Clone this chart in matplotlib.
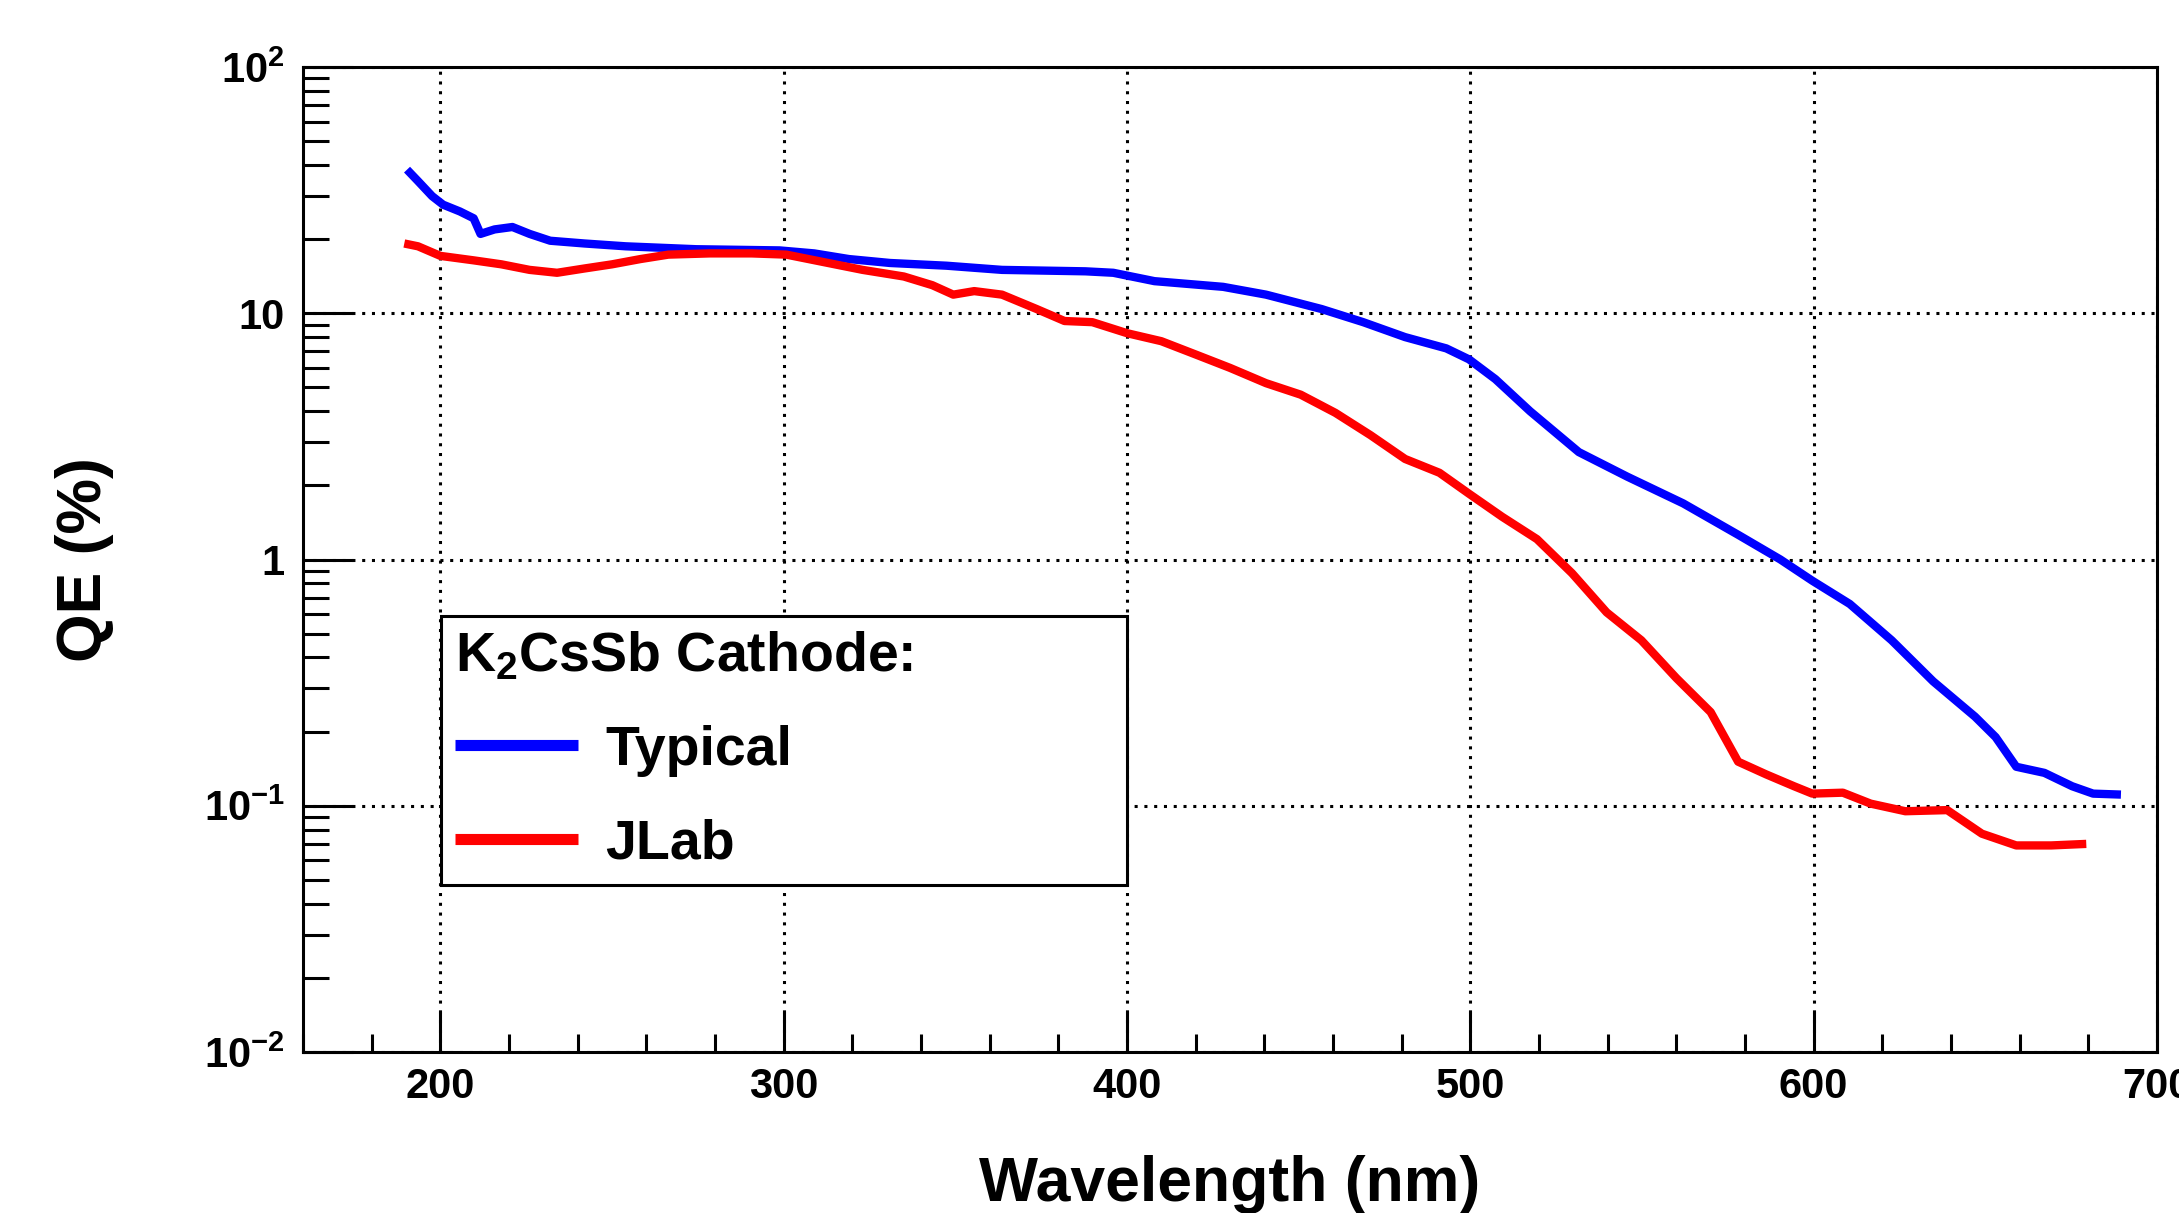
import matplotlib
matplotlib.use("Agg")
import matplotlib.pyplot as plt
from matplotlib.ticker import MultipleLocator, LogLocator, FuncFormatter, NullFormatter

plt.rcParams["font.family"] = ["Liberation Sans", "DejaVu Sans"]
plt.rcParams["font.weight"] = "bold"
plt.rcParams["mathtext.fontset"] = "custom"
plt.rcParams["mathtext.rm"] = "Liberation Sans:bold"
plt.rcParams["mathtext.it"] = "Liberation Sans:bold"
plt.rcParams["mathtext.bf"] = "Liberation Sans:bold"

# Typical K2CsSb cathode QE (%)
typical_nm = [190.3, 193.5, 197.6, 200.8, 205.7, 209.7, 211.7, 215.8, 221.0, 226.0,
              232.0, 242.0, 254.0, 274.5, 298.8, 308.9, 319.0, 331.0, 347.4, 363.6,
              387.9, 396.0, 408.0, 428.0, 440.5, 456.7, 468.8, 481.0, 493.0, 499.6,
              507.3, 517.4, 531.6, 545.7, 562.0, 578.0, 590.3, 599.6, 610.5, 622.7,
              634.8, 647.0, 653.0, 659.0, 667.2, 675.3, 681.4, 689.5]
typical_qe = [38.3, 34.4, 29.9, 27.6, 25.9, 24.3, 21.0, 21.9, 22.4, 21.0,
              19.7, 19.2, 18.7, 18.2, 18.0, 17.5, 16.6, 16.0, 15.6, 15.0,
              14.8, 14.6, 13.5, 12.8, 11.9, 10.4, 9.2, 8.0, 7.2, 6.5,
              5.4, 4.0, 2.73, 2.17, 1.69, 1.26, 1.0, 0.82, 0.66, 0.47,
              0.32, 0.23, 0.19, 0.144, 0.136, 0.12, 0.112, 0.111]

# JLab K2CsSb cathode QE (%)
jlab_nm = [189.5, 193.5, 200.0, 209.7, 217.8, 226.0, 234.0, 242.0, 250.0, 258.3,
           266.4, 278.5, 290.7, 300.8, 311.0, 323.0, 335.0, 343.3, 349.4, 355.5,
           363.6, 373.7, 381.8, 389.9, 400.0, 410.0, 420.0, 430.0, 440.5, 450.6,
           460.7, 470.9, 481.0, 491.0, 499.6, 509.3, 519.4, 529.6, 539.7, 549.8,
           560.0, 570.0, 578.0, 586.2, 594.3, 599.6, 608.5, 616.6, 626.7, 638.9,
           649.0, 659.0, 669.2, 679.4]
jlab_qe = [19.2, 18.7, 17.1, 16.4, 15.8, 15.0, 14.6, 15.2, 15.8, 16.6,
           17.3, 17.5, 17.5, 17.3, 16.2, 15.0, 14.1, 13.0, 11.9, 12.3,
           11.9, 10.4, 9.3, 9.2, 8.3, 7.7, 6.8, 6.0, 5.2, 4.67,
           3.94, 3.2, 2.56, 2.25, 1.85, 1.49, 1.21, 0.88, 0.61, 0.47,
           0.33, 0.24, 0.151, 0.134, 0.12, 0.112, 0.113, 0.102, 0.095, 0.096,
           0.077, 0.069, 0.069, 0.070]

ytick_labels = {100: r"$10^{2}$", 10: "10", 1: "1", 0.1: r"$10^{-1}$", 0.01: r"$10^{-2}$"}

fig = plt.figure(figsize=(21.79, 12.13), dpi=100)
ax = fig.add_axes([303 / 2179, 1 - 1052 / 1213, 1854 / 2179, 985 / 1213])

ax.plot(typical_nm, typical_qe, color="#0000ff", lw=6, label="Typical", solid_capstyle="butt")
ax.plot(jlab_nm, jlab_qe, color="#ff0000", lw=6, label="JLab", solid_capstyle="butt")

ax.set_yscale("log")
ax.set_xlim(160, 700)
ax.set_ylim(0.01, 100)

ax.xaxis.set_major_locator(MultipleLocator(100))
ax.xaxis.set_minor_locator(MultipleLocator(20))
ax.yaxis.set_major_locator(LogLocator(base=10, numticks=10))
ax.yaxis.set_minor_locator(LogLocator(base=10, subs=range(2, 10), numticks=20))
ax.yaxis.set_major_formatter(FuncFormatter(lambda v, p: ytick_labels.get(round(v, 2), "")))
ax.yaxis.set_minor_formatter(NullFormatter())

ax.tick_params(axis="both", which="both", direction="in", top=False, right=False,
               width=2.2, labelsize=30)
ax.tick_params(axis="x", which="major", length=29, pad=11)
ax.tick_params(axis="x", which="minor", length=13)
ax.tick_params(axis="y", which="major", length=36, pad=13)
ax.tick_params(axis="y", which="minor", length=19)

ax.grid(True, which="major", color="black", linestyle=(0, (1, 2.2)), lw=2.2)

for s in ax.spines.values():
    s.set_linewidth(2.2)

ax.set_xlabel("Wavelength (nm)", fontsize=45, fontweight="bold", labelpad=34)
ax.set_ylabel("QE (%)", fontsize=45, fontweight="bold", labelpad=65)

leg = ax.legend(loc="upper left", bbox_to_anchor=(0.0744, 0.1675, 0.370, 0.2751),
                mode="expand", title=r"K$_{2}$CsSb Cathode:", alignment="left",
                fontsize=40, title_fontsize=40, fancybox=False, framealpha=1,
                edgecolor="black", handlelength=2.2, handletextpad=0.5,
                labelspacing=0.75, borderpad=0.26, borderaxespad=0)
leg.get_frame().set_linewidth(2.2)
for line in leg.get_lines():
    line.set_linewidth(8)

fig.savefig("out.png", dpi=100)
